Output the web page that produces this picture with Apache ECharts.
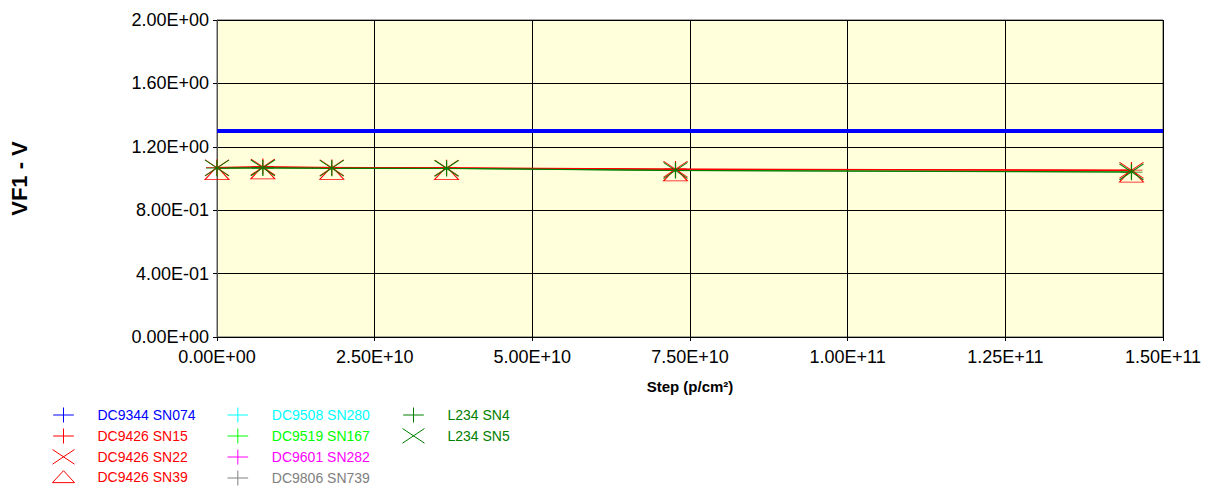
<!DOCTYPE html>
<html>
<head>
<meta charset="utf-8">
<script src="https://cdn.jsdelivr.net/npm/echarts@6/dist/echarts.min.js"></script>
<style>
    html, body { margin: 0; padding: 0; background: #fff; }
    #chart { width: 1219px; height: 493px; }
</style>
</head>
<body>
<div id="chart"></div>
<script>
    // fluence steps (p/cm²)
    var steps = [0, 7.27e9, 1.82e10, 3.64e10, 7.27e10, 1.45e11];
    var blueSteps = [0, 1.5e11];

    // VF1 values (V)
    var dc9344sn074 = [1.30, 1.30];
    var dc9426sn15 = [1.07, 1.075, 1.07, 1.068, 1.06, 1.053];
    var dc9426sn22 = [1.068, 1.072, 1.068, 1.066, 1.058, 1.052];
    var dc9426sn39 = [1.066, 1.07, 1.067, 1.065, 1.057, 1.05];
    var l234sn4 = [1.065, 1.066, 1.064, 1.063, 1.05, 1.04];
    var l234sn5 = [1.066, 1.067, 1.065, 1.064, 1.051, 1.042];

    var PLUS = 'path://M0,8 L22,8 M11,0 L11,16';
    var CROSS = 'path://M0,0 L24,16 M0,16 L24,0';
    var TRI = 'path://M12,0 L24,13 L0,13 Z';

    function sci(v) {
        if (v === 0) return '0.00E+00';
        var e = Math.floor(Math.log10(Math.abs(v)) + 1e-9);
        var m = v / Math.pow(10, e);
        var s = m.toFixed(2);
        if (s === '10.00') { s = '1.00'; e += 1; }
        var es = Math.abs(e) < 10 ? '0' + Math.abs(e) : '' + Math.abs(e);
        return s + 'E' + (e < 0 ? '-' : '+') + es;
    }

    function pairs(xs, ys) {
        return ys.map(function (y, i) { return [xs[i], y]; });
    }

    function mkSeries(name, color, xs, ys, symbol, size, offset, lineWidth) {
        return {
            name: name,
            type: 'line',
            data: pairs(xs, ys),
            symbol: symbol || 'none',
            symbolSize: size || 0,
            symbolOffset: offset || [0, 0],
            showAllSymbol: true,
            lineStyle: { color: color, width: lineWidth || 1 },
            itemStyle: { color: 'transparent', borderColor: color, borderWidth: 1 },
            emphasis: { disabled: true },
            animation: false
        };
    }

    function legendItem(name, color, icon) {
        return {
            name: name,
            icon: icon,
            textStyle: { color: color },
            itemStyle: { color: 'transparent', borderColor: color, borderWidth: 1 }
        };
    }

    function mkLegend(left, items) {
        return {
            orient: 'vertical',
            left: left,
            top: 407,
            height: 120,
            padding: 0,
            itemWidth: 22,
            itemHeight: 15,
            itemGap: 5,
            selectedMode: false,
            textStyle: { fontFamily: 'Liberation Sans, Arial', fontSize: 14, padding: [0, 0, 0, 18] },
            data: items
        };
    }

    var chartDom = document.getElementById('chart');
    var myChart = echarts.init(chartDom, null, { renderer: 'svg' });

    var option = {
        backgroundColor: '#ffffff',
        textStyle: { fontFamily: 'Liberation Sans, Arial' },
        grid: {
            left: 217,
            right: 56,
            top: 20,
            bottom: 156,
            show: true,
            backgroundColor: '#ffffdc',
            borderColor: '#555',
            borderWidth: 1
        },
        legend: [
            mkLegend(52, [
                legendItem('DC9344 SN074', '#0000ff', PLUS),
                legendItem('DC9426 SN15', '#ff0000', PLUS),
                legendItem('DC9426 SN22', '#ff0000', CROSS),
                legendItem('DC9426 SN39', '#ff0000', TRI)
            ]),
            mkLegend(227, [
                legendItem('DC9508 SN280', '#00ffff', PLUS),
                legendItem('DC9519 SN167', '#00ff00', PLUS),
                legendItem('DC9601 SN282', '#ff00ff', PLUS),
                legendItem('DC9806 SN739', '#808080', PLUS)
            ]),
            mkLegend(402, [
                legendItem('L234 SN4', '#008000', PLUS),
                legendItem('L234 SN5', '#008000', CROSS)
            ])
        ],
        xAxis: {
            type: 'value',
            min: 0,
            max: 1.5e11,
            interval: 2.5e10,
            name: 'Step (p/cm²)',
            nameLocation: 'middle',
            nameGap: 42,
            nameTextStyle: { fontSize: 15, fontWeight: 'bold', color: '#000' },
            axisLine: { show: true, lineStyle: { color: '#000' } },
            axisTick: { show: true, length: 4, lineStyle: { color: '#000' } },
            axisLabel: { fontSize: 18, color: '#000', margin: 11, formatter: sci },
            splitLine: { show: true, lineStyle: { color: '#000', width: 1 } }
        },
        yAxis: {
            type: 'value',
            min: 0,
            max: 2,
            interval: 0.4,
            name: 'VF1 - V',
            nameLocation: 'middle',
            nameGap: 187,
            nameTextStyle: { fontSize: 22, fontWeight: 'bold', color: '#000' },
            axisLine: { show: true, lineStyle: { color: '#555' } },
            axisTick: { show: true, length: 4, lineStyle: { color: '#000' } },
            axisLabel: { fontSize: 18, color: '#000', margin: 8, padding: [0, 0, 8, 0], formatter: sci },
            splitLine: { show: true, lineStyle: { color: '#000', width: 1 } }
        },
        series: [
            mkSeries('DC9344 SN074', '#0000ff', blueSteps, dc9344sn074, 'none', 0, null, 4),
            mkSeries('DC9426 SN15', '#ff0000', steps, dc9426sn15, PLUS, [22, 16]),
            mkSeries('DC9426 SN22', '#ff0000', steps, dc9426sn22, CROSS, [24, 16]),
            mkSeries('DC9426 SN39', '#ff0000', steps, dc9426sn39, TRI, [24, 13], [0, 5]),
            mkSeries('DC9508 SN280', '#00ffff', steps, [], PLUS, [22, 16]),
            mkSeries('DC9519 SN167', '#00ff00', steps, [], PLUS, [22, 16]),
            mkSeries('DC9601 SN282', '#ff00ff', steps, [], PLUS, [22, 16]),
            mkSeries('DC9806 SN739', '#808080', steps, [], PLUS, [22, 16]),
            mkSeries('L234 SN4', '#008000', steps, l234sn4, PLUS, [22, 16]),
            mkSeries('L234 SN5', '#008000', steps, l234sn5, CROSS, [24, 16])
        ]
    };

    myChart.setOption(option);
</script>
</body>
</html>
